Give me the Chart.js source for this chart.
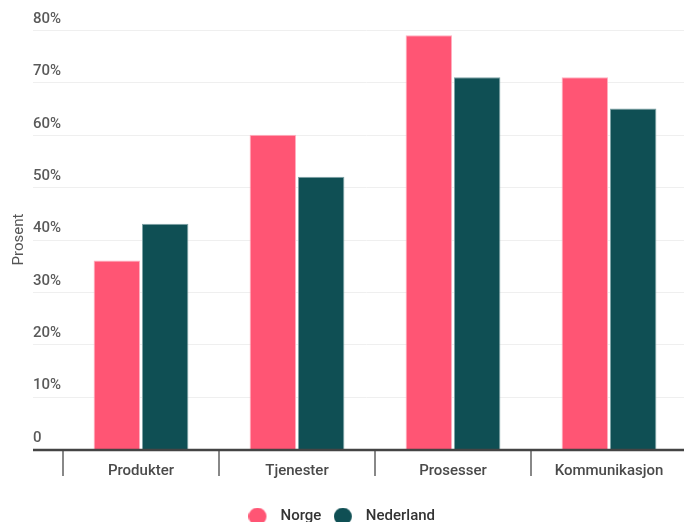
<!DOCTYPE html>
<html><head><meta charset="utf-8">
<script src="https://cdn.jsdelivr.net/npm/chart.js@4/dist/chart.umd.min.js"></script>
<style>
html,body{margin:0;padding:0;background:#fff;overflow:hidden;width:684px;height:522px;}
#wrap{position:absolute;left:0;top:0;width:700px;height:534px;}
</style></head>
<body>
<div id="wrap"><canvas id="c"></canvas></div>
<script>
const categories = ['Produkter', 'Tjenester', 'Prosesser', 'Kommunikasjon'];
const norge = [36, 60, 79, 71];
const nederland = [43, 52, 71, 65];
const seriesNames = ['Norge', 'Nederland'];
const yTicks = [0, 10, 20, 30, 40, 50, 60, 70, 80];

const FONT = 'Roboto, "Noto Sans", sans-serif';
const PINK = '#ff5574';
const TEAL = '#0f4f54';

function dot(color) {
  const c = document.createElement('canvas');
  c.width = 36; c.height = 18;
  const g = c.getContext('2d');
  g.fillStyle = color;
  g.beginPath(); g.arc(9, 9, 9, 0, Math.PI * 2); g.fill();
  return c;
}

const extraLines = {
  id: 'extraLines',
  beforeDatasetsDraw(chart) {
    const ctx = chart.ctx, y = chart.scales.y;
    ctx.save();
    ctx.strokeStyle = '#efefef';
    ctx.lineWidth = 1;
    yTicks.forEach(v => {
      if (v === 0) return;
      const py = Math.round(y.getPixelForValue(v)) + 0.5;
      ctx.beginPath(); ctx.moveTo(33, py); ctx.lineTo(chart.width, py); ctx.stroke();
    });
    ctx.restore();
  },
  afterDatasetsDraw(chart) {
    const ctx = chart.ctx, y = chart.scales.y, x = chart.scales.x;
    ctx.save();
    const py = y.getPixelForValue(0);
    const half = (x.getPixelForValue(1) - x.getPixelForValue(0)) / 2;
    ctx.strokeStyle = '#888';
    ctx.lineWidth = 2;
    for (let i = 0; i <= categories.length; i++) {
      const px = Math.round(x.getPixelForValue(0) - half + i * 2 * half);
      ctx.beginPath(); ctx.moveTo(px, py); ctx.lineTo(px, py + 27); ctx.stroke();
    }
    ctx.strokeStyle = '#444';
    ctx.lineWidth = 2.5;
    ctx.beginPath(); ctx.moveTo(33, py + 1); ctx.lineTo(chart.width, py + 1); ctx.stroke();
    ctx.restore();
  }
};

new Chart(document.getElementById('c'), {
  type: 'bar',
  data: {
    labels: categories,
    datasets: [
      { label: seriesNames[0], data: norge, backgroundColor: PINK, borderColor: '#ffb0bf', borderWidth: 1, pointStyle: dot(PINK) },
      { label: seriesNames[1], data: nederland, backgroundColor: TEAL, borderColor: '#7fa3a6', borderWidth: 1, pointStyle: dot(TEAL) }
    ]
  },
  options: {
    responsive: true,
    maintainAspectRatio: false,
    animation: false,
    layout: { padding: { top: 30, right: 13, left: 8, bottom: 0 } },
    datasets: { bar: { categoryPercentage: 0.62, barPercentage: 0.96 } },
    scales: {
      x: {
        afterFit(scale) { scale.height = 36; },
        grid: { display: false },
        border: { display: false },
        ticks: { padding: 5, color: '#4a4a4a', font: { family: FONT, size: 15, weight: '500' } }
      },
      y: {
        min: 0, max: 80,
        afterBuildTicks(scale) { scale.ticks = yTicks.map(v => ({ value: v })); },
        afterFit(scale) { scale.width = 55; },
        grid: { display: false },
        border: { display: false },
        ticks: {
          mirror: true, padding: -30, labelOffset: -11,
          color: '#5a5a5a', font: { family: FONT, size: 15, weight: '500' },
          callback: v => v === 0 ? '0' : v + '%'
        },
        title: { display: true, text: 'Prosent', color: '#555', font: { family: FONT, size: 15 }, padding: { top: 2, bottom: 0 } }
      }
    },
    plugins: {
      legend: {
        position: 'bottom',
        labels: { usePointStyle: true, boxWidth: 13, boxHeight: 13, padding: 24, color: '#333', font: { family: FONT, size: 15, weight: '500' } }
      },
      tooltip: { enabled: false }
    }
  },
  plugins: [extraLines]
});
</script>
</body></html>
